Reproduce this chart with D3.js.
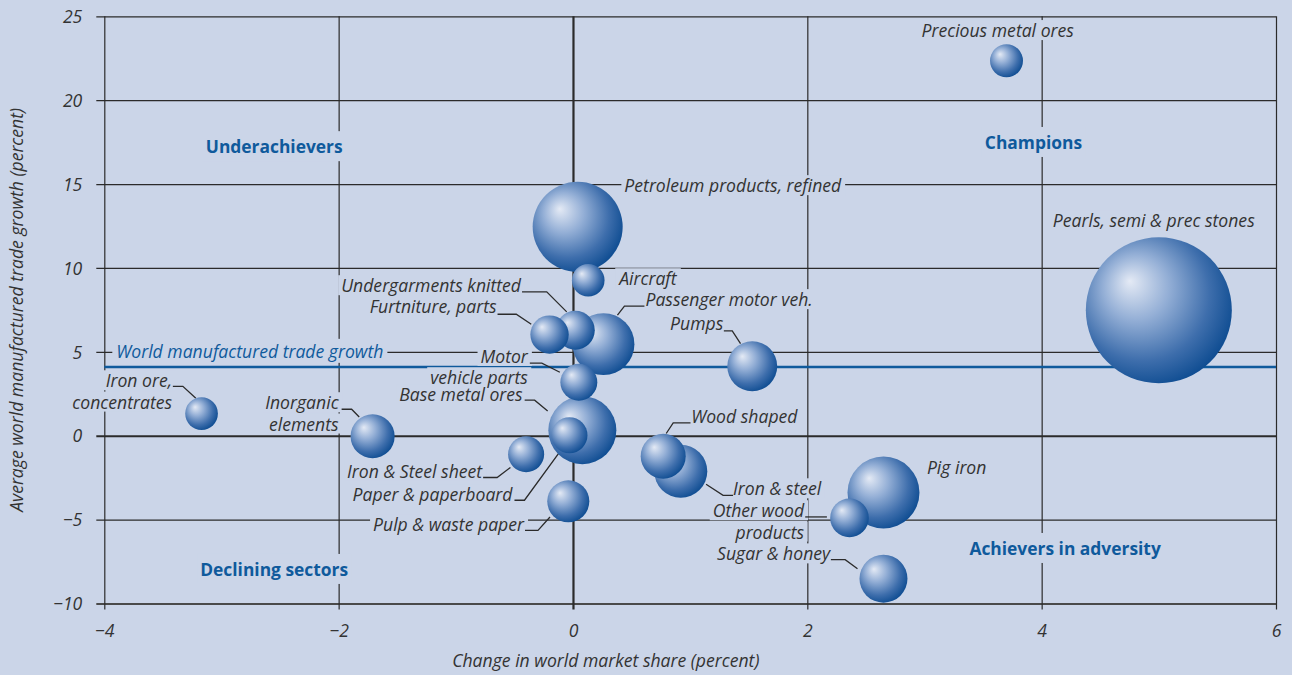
<!DOCTYPE html>
<html><head><meta charset="utf-8">
<script src="https://cdn.jsdelivr.net/npm/d3@7/dist/d3.min.js"></script>
<style>
html,body{margin:0;padding:0;background:#cbd5e8;}
svg{display:block;}
text{font-family:"Open Sans","Noto Sans",sans-serif;}
</style></head>
<body>
<svg id="chart" width="1292" height="675"></svg>
<script>
// ---- data ----
const products = ["Precious metal ores","Petroleum products, refined","Pearls, semi & prec stones","Aircraft",
  "Passenger motor veh.","Undergarments knitted","Furtniture, parts","Pumps","Motor vehicle parts",
  "Iron ore, concentrates","Inorganic elements","Base metal ores","Paper & paperboard","Iron & Steel sheet",
  "Pulp & waste paper","Wood shaped","Iron & steel","Pig iron","Other wood products","Sugar & honey"];
const shareChange = [3.70,0.04,5.00,0.13,0.26,0.02,-0.20,1.53,0.05,-3.17,-1.71,0.08,-0.03,-0.40,-0.04,0.77,0.92,2.65,2.36,2.65];
const tradeGrowth = [22.35,12.45,7.48,9.27,5.46,6.29,6.03,4.14,3.19,1.32,-0.03,0.33,0.03,-1.10,-3.91,-1.22,-2.12,-3.39,-4.90,-8.52];
const tradeSize = [5.1,38,100,5.0,18,7.1,6.9,11.7,6.4,5.0,9.1,21.7,6.1,6.1,8.3,9.5,13.2,24.3,7.0,10.8];
const worldGrowth = 4.1;
const xTicks = [-4,-2,0,2,4,6];
const yTicks = [25,20,15,10,5,0,-5,-10];
const quadrantNames = ["Underachievers","Champions","Declining sectors","Achievers in adversity"];
const quadrantPos = [[-2.55,17.2],[3.93,17.45],[-2.55,-8.0],[4.2,-6.75]];

// ---- label layout (pixel offsets from bubble centre) ----
const labelLayout = [
  {lines:["Precious metal ores"],anchor:"start",dx:-85,dy:-29.7},
  {lines:["Petroleum products, refined"],anchor:"start",dx:46.7,dy:-40.7},
  {lines:["Pearls, semi & prec stones"],anchor:"start",dx:-106,dy:-89},
  {lines:["Aircraft"],anchor:"start",dx:31,dy:-1},
  {lines:["Passenger motor veh."],anchor:"start",dx:42,dy:-44,lead:[[14,-29],[21,-38],[41,-38]]},
  {lines:["Undergarments knitted"],anchor:"end",dx:-54.3,dy:-44,lead:[[-53.3,-38.3],[-28.6,-38.3],[-8.6,-18.3]]},
  {lines:["Furtniture, parts"],anchor:"end",dx:-53,dy:-27.6,lead:[[-52,-20.3],[-33.3,-20.3],[-18.3,-10.3]]},
  {lines:["Pumps"],anchor:"end",dx:-29,dy:-42.7,lead:[[-28.4,-35.3],[-20,-35.3],[-11.7,-22.7]]},
  {lines:["Motor","vehicle parts"],anchor:"end",dx:-51,dy:-25.3,lead:[[-49,-19],[-37,-19],[-19,-10]]},
  {lines:["Iron ore,","concentrates"],anchor:"end",dx:-29.5,dy:-32.3,lead:[[-28.7,-27.3],[-18.7,-27.3],[-5.7,-15.3]]},
  {lines:["Inorganic","elements"],anchor:"end",dx:-34,dy:-33,lead:[[-31,-27],[-21,-27],[-13.4,-19.3]]},
  {lines:["Base metal ores"],anchor:"end",dx:-59.7,dy:-35,lead:[[-57.7,-30],[-47.7,-30],[-34.7,-19.3]]},
  {lines:["Paper & paperboard"],anchor:"end",dx:-57,dy:60,lead:[[-55,65],[-45,65],[-9,15.7]]},
  {lines:["Iron & Steel sheet"],anchor:"end",dx:-44,dy:17.7,lead:[[-43,23.3],[-29,23.3],[-15.7,13.3]]},
  {lines:["Pulp & waste paper"],anchor:"end",dx:-44.3,dy:24,lead:[[-43.3,29],[-30.3,29],[-18.3,15.7]]},
  {lines:["Wood shaped"],anchor:"start",dx:28,dy:-39.3,lead:[[27.3,-33.3],[10,-33.3],[3,-22.7]]},
  {lines:["Iron & steel"],anchor:"start",dx:52.3,dy:18,lead:[[25.3,13],[42.3,24],[52.3,24]]},
  {lines:["Pig iron"],anchor:"start",dx:43.4,dy:-24.6},
  {lines:["Other wood","products"],anchor:"end",dx:-45.3,dy:-6.7,lead:[[-44.3,-1],[-22.6,-1]]},
  {lines:["Sugar & honey"],anchor:"end",dx:-53.3,dy:-24.3,lead:[[-52.6,-19],[-38.3,-19],[-26,-10]]}
];

const BG = "#cbd5e8", GRID = "#2b2b2b", BLUE = "#0f5a9c", TXT = "#333333";
const FS = 17.6;
const svg = d3.select("#chart");
const W = 1292, H = 675;
const m = {left:104.3, right:W-1276, top:16.3, bottom:H-603.5};
const x = d3.scaleLinear().domain([-4,6]).range([m.left, W-m.right]);
const y = d3.scaleLinear().domain([-10,25]).range([H-m.bottom, m.top]);
const r = d3.scaleSqrt().domain([0,100]).range([0,73]);

svg.append("rect").attr("width",W).attr("height",H).attr("fill",BG);

// gradient
const defs = svg.append("defs");
const g = defs.append("radialGradient").attr("id","sphere")
  .attr("cx","0.42").attr("cy","0.42").attr("r","0.64").attr("fx","0.3").attr("fy","0.3");
g.append("stop").attr("offset","0").attr("stop-color","#e4eaf5");
g.append("stop").attr("offset","0.35").attr("stop-color","#94afd6");
g.append("stop").attr("offset","0.72").attr("stop-color","#3e6eac");
g.append("stop").attr("offset","1").attr("stop-color","#08488e");

// grid lines via axes
const fmt = d => d < 0 ? "\u2212" + Math.abs(d) : d;
const yAxis = d3.axisLeft(y).tickValues(yTicks).tickSize(-(W-m.left-m.right)).tickFormat(fmt);
const yg = svg.append("g").attr("transform",`translate(${m.left},0)`).call(yAxis);
yg.select(".domain").remove();
yg.selectAll(".tick line").attr("x1",-8).attr("stroke-width",d=>d===0?2.2:(d===-10?2:1.2))
  .attr("stroke",d=>d===-10?"#4a4a4a":GRID);
yg.selectAll(".tick text").attr("fill",TXT).attr("font-size",FS).attr("font-style","italic").attr("x",-22).attr("dy","0.35em");

const xAxis = d3.axisBottom(x).tickValues(xTicks).tickSize(-(H-m.top-m.bottom)).tickFormat(fmt);
const xg = svg.append("g").attr("transform",`translate(0,${H-m.bottom})`).call(xAxis);
xg.select(".domain").remove();
xg.selectAll(".tick line").attr("y1",6).attr("stroke",GRID).attr("stroke-width",d=>d===0?2.2:1.2);
xg.selectAll(".tick text").attr("fill",TXT).attr("font-size",FS).attr("font-style","italic").attr("y",21).attr("dy","0.71em");

// world trade growth line
svg.append("line").attr("x1",x(-4)).attr("x2",x(6)).attr("y1",y(worldGrowth)).attr("y2",y(worldGrowth))
  .attr("stroke",BLUE).attr("stroke-width",2.5);

// axis titles
svg.append("text").attr("x",x(0.28)).attr("y",667).attr("text-anchor","middle")
  .attr("font-size",FS).attr("font-style","italic").attr("fill",TXT).text("Change in world market share (percent)");
svg.append("text").attr("transform",`translate(23,${y(7.5)}) rotate(-90)`).attr("text-anchor","middle")
  .attr("font-size",FS).attr("font-style","italic").attr("fill",TXT).text("Average world manufactured trade growth (percent)");

// layers: knockouts below, texts above
const kg = svg.append("g");
const tg = svg.append("g");
function knock(sel, px, py){
  const bb = sel.node().getBBox();
  kg.append("rect").attr("x",bb.x-px).attr("y",bb.y-py).attr("width",bb.width+2*px).attr("height",bb.height+2*py)
    .attr("fill",BG);
}

// quadrant titles
quadrantNames.forEach((q,i)=>{
  const t = tg.append("text").attr("x",x(quadrantPos[i][0])).attr("y",y(quadrantPos[i][1])+6)
    .attr("text-anchor","middle").attr("font-size",17.4).attr("font-weight",700).attr("fill",BLUE).text(q);
  knock(t,3,3);
});

// world growth label
const wl = tg.append("text").attr("x",x(-4)+12).attr("y",y(5)+6).attr("font-size",FS).attr("font-style","italic")
  .attr("fill",BLUE).text("World manufactured trade growth");
knock(wl,4,0);

const data = products.map((p,i)=>({name:p,x:shareChange[i],y:tradeGrowth[i],s:tradeSize[i],lab:labelLayout[i]}));

// labels
data.forEach(d=>{
  const cx = x(d.x), cy = y(d.y), L = d.lab;
  L.lines.forEach((ln,k)=>{
    const t = tg.append("text").attr("text-anchor",L.anchor).attr("font-size",FS).attr("font-style","italic")
      .attr("fill",TXT).attr("x",cx+L.dx).attr("y",cy+L.dy+6+k*21.3).text(ln);
    knock(t,3,-2);
  });
  if(L.lead){
    tg.append("path").attr("d",d3.line()(L.lead.map(p=>[cx+p[0],cy+p[1]])))
      .attr("fill","none").attr("stroke","#2b2b2b").attr("stroke-width",1.3);
  }
});

// bubbles
svg.append("g").selectAll("circle").data(data.slice().sort((a,b)=>b.s-a.s)).join("circle")
  .attr("cx",d=>x(d.x)).attr("cy",d=>y(d.y)).attr("r",d=>r(d.s)).attr("fill","url(#sphere)");
</script>
</body></html>
